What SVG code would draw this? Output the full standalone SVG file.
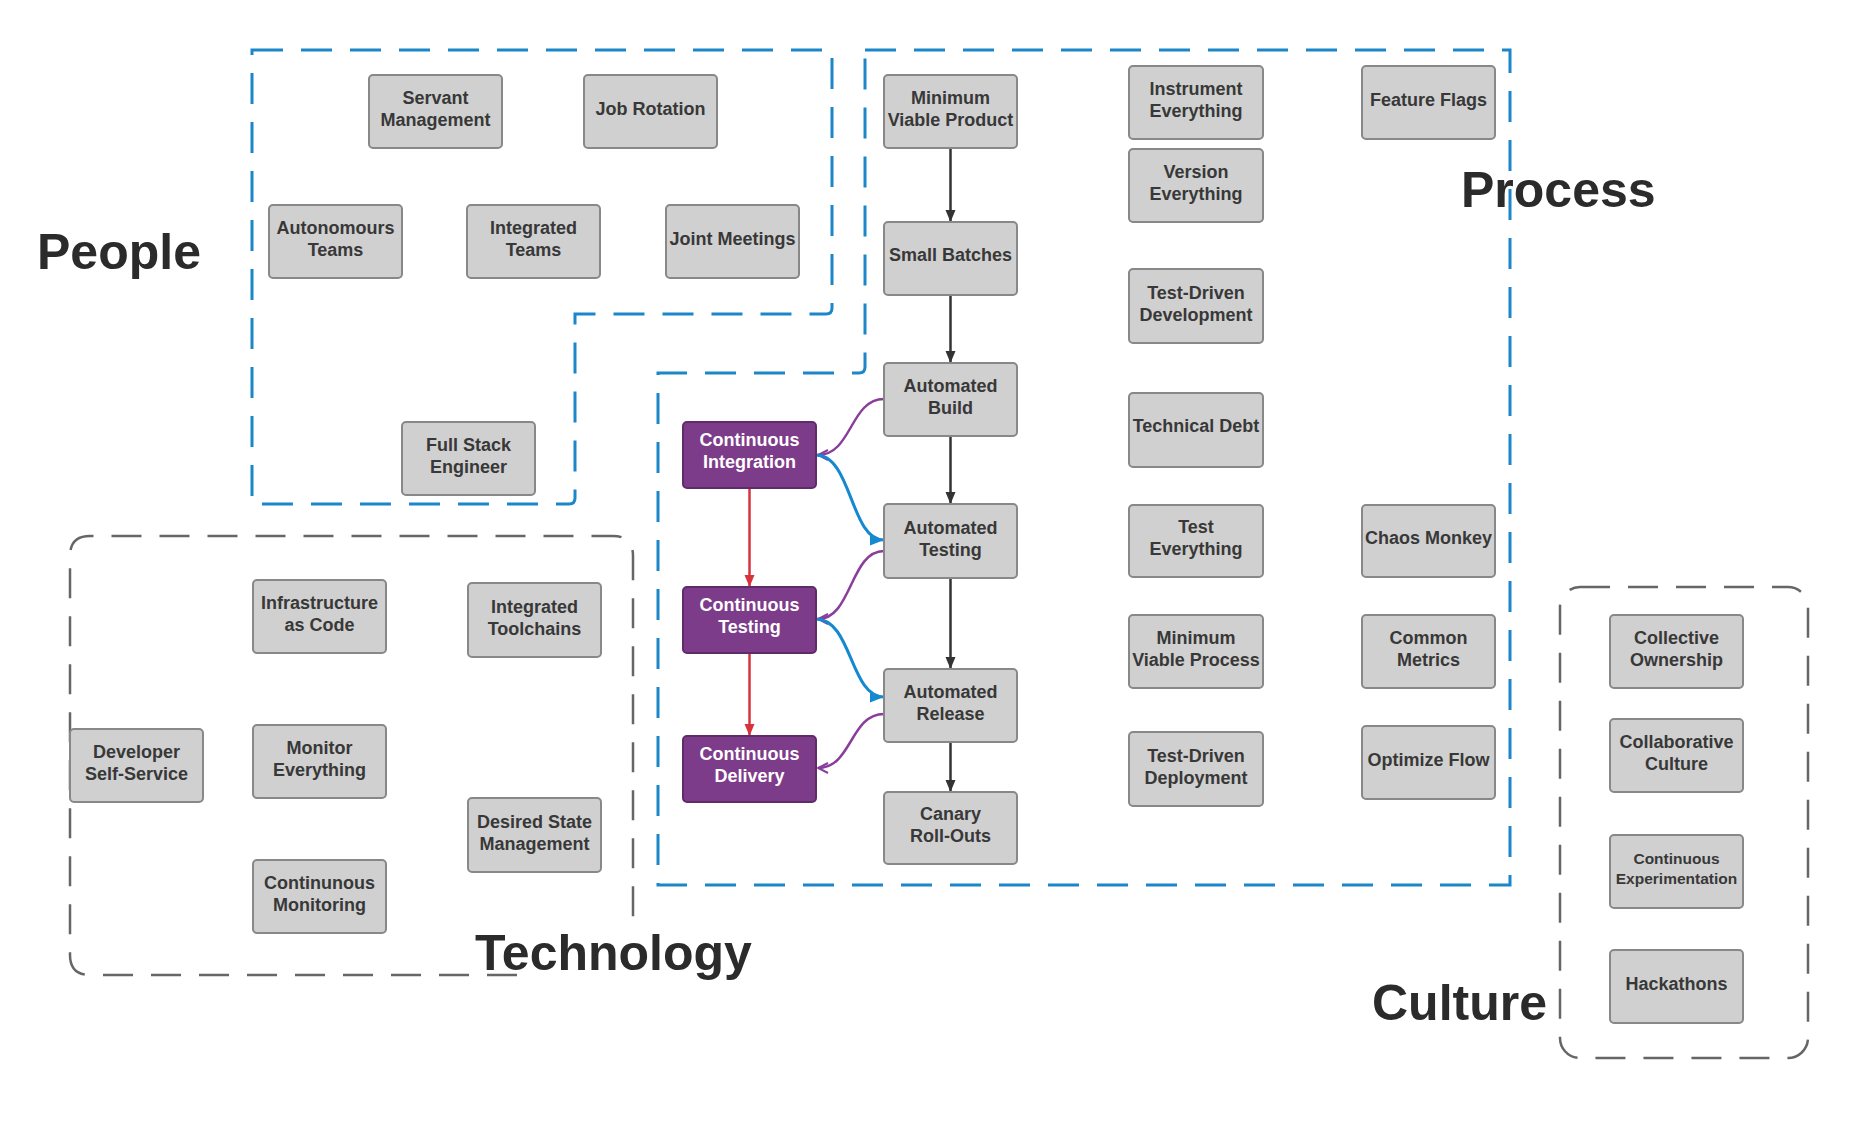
<svg xmlns="http://www.w3.org/2000/svg" width="1858" height="1125" viewBox="0 0 1858 1125">
<style>
.bg{fill:#ffffff}
.node rect{fill:#d0d0d0;stroke:#888888;stroke-width:2}
.node text{font-family:"Liberation Sans",Arial,sans-serif;font-weight:bold;font-size:18px;fill:#383838;text-anchor:middle}
.pnode rect{fill:#7d3c89;stroke:#5f2b69;stroke-width:2}
.pnode text{font-family:"Liberation Sans",Arial,sans-serif;font-weight:bold;font-size:18px;fill:#ffffff;text-anchor:middle}
.small text{font-size:15.5px}
.blue-zone{fill:none;stroke:#1b87c9;stroke-width:3;stroke-dasharray:31 18}
.gray-zone{fill:none;stroke:#666666;stroke-width:2.5;stroke-dasharray:30 18}
.title{font-family:"Liberation Sans",Arial,sans-serif;font-weight:bold;font-size:50px;fill:#2b2b2b}
.blk{fill:none;stroke:#333333;stroke-width:2.5}
.red{fill:none;stroke:#d8333d;stroke-width:2.5}
.pur{fill:none;stroke:#8a3d9a;stroke-width:2.5}
.blu{fill:none;stroke:#1589d0;stroke-width:3}
</style>
<defs>
<marker id="ah-black" markerUnits="userSpaceOnUse" markerWidth="12" markerHeight="12" viewBox="0 0 12 12" refX="12" refY="6" orient="auto"><path d="M0,1 L12,6 L0,11 Z" fill="#333333"/></marker>
<marker id="ah-red" markerUnits="userSpaceOnUse" markerWidth="12" markerHeight="12" viewBox="0 0 12 12" refX="12" refY="6" orient="auto"><path d="M0,1 L12,6 L0,11 Z" fill="#d8333d"/></marker>
<marker id="ah-blue" markerUnits="userSpaceOnUse" markerWidth="14" markerHeight="12" viewBox="0 0 14 12" refX="14" refY="6" orient="auto"><path d="M0,0.5 L14,6 L0,11.5 Z" fill="#1589d0"/></marker>
<marker id="ah-purple" markerUnits="userSpaceOnUse" markerWidth="12" markerHeight="12" viewBox="0 0 12 12" refX="11" refY="6" orient="auto"><path d="M1,1 L11,6 L1,11" fill="none" stroke="#8a3d9a" stroke-width="2"/></marker>
</defs>
<rect class="bg" x="0" y="0" width="1858" height="1125"/>

<g id="zones">
<path id="zone-people" class="blue-zone" d="M252,50 H832 V308 Q832,314 826,314 H575 V498 Q575,504 569,504 H252 Z"/>
<path id="zone-process" class="blue-zone" d="M865,50 H1510 V885 H658 V373 H859 Q865,373 865,367 Z"/>
<path id="zone-technology" class="gray-zone" d="M517,975 H90 Q70,975 70,955 V556 Q70,536 90,536 H613 Q633,536 633,556 V917"/>
<rect id="zone-culture" class="gray-zone" x="1560" y="587" width="248" height="471" rx="20" ry="20"/>
</g>

<g id="titles">
<text class="title" x="37" y="269">People</text>
<text class="title" x="1461" y="207">Process</text>
<text class="title" x="475" y="970">Technology</text>
<text class="title" x="1372" y="1020">Culture</text>
</g>

<g id="connectors">
<path class="blk" d="M950.5,148 V222" marker-end="url(#ah-black)"/>
<path class="blk" d="M950.5,295 V363" marker-end="url(#ah-black)"/>
<path class="blk" d="M950.5,436 V504" marker-end="url(#ah-black)"/>
<path class="blk" d="M950.5,578 V669" marker-end="url(#ah-black)"/>
<path class="blk" d="M950.5,742 V792" marker-end="url(#ah-black)"/>
<path class="red" d="M749.5,488 V587" marker-end="url(#ah-red)"/>
<path class="red" d="M749.5,653 V736" marker-end="url(#ah-red)"/>
<path class="pur" d="M884,399 C850,399 852,455 818,455" marker-end="url(#ah-purple)"/>
<path class="blu" d="M816,455 C852,455 850,540 884,540" marker-end="url(#ah-blue)"/>
<path class="pur" d="M884,551 C850,551 852,619 818,619" marker-end="url(#ah-purple)"/>
<path class="blu" d="M816,619 C852,619 850,697 884,697" marker-end="url(#ah-blue)"/>
<path class="pur" d="M884,714 C850,714 852,768 818,768" marker-end="url(#ah-purple)"/>
</g>

<g id="n-servant" class="node"><rect x="369" y="75" width="133" height="73" rx="4"/><text x="435.5" y="104">Servant</text><text x="435.5" y="126">Management</text></g>
<g id="n-jobrotation" class="node"><rect x="584" y="75" width="133" height="73" rx="4"/><text x="650.5" y="115">Job Rotation</text></g>
<g id="n-autoteams" class="node"><rect x="269" y="205" width="133" height="73" rx="4"/><text x="335.5" y="234">Autonomours</text><text x="335.5" y="256">Teams</text></g>
<g id="n-intteams" class="node"><rect x="467" y="205" width="133" height="73" rx="4"/><text x="533.5" y="234">Integrated</text><text x="533.5" y="256">Teams</text></g>
<g id="n-joint" class="node"><rect x="666" y="205" width="133" height="73" rx="4"/><text x="732.5" y="245">Joint Meetings</text></g>
<g id="n-fullstack" class="node"><rect x="402" y="422" width="133" height="73" rx="4"/><text x="468.5" y="451">Full Stack</text><text x="468.5" y="473">Engineer</text></g>

<g id="n-mvp" class="node"><rect x="884" y="75" width="133" height="73" rx="4"/><text x="950.5" y="104">Minimum</text><text x="950.5" y="126">Viable Product</text></g>
<g id="n-smallbatches" class="node"><rect x="884" y="222" width="133" height="73" rx="4"/><text x="950.5" y="261">Small Batches</text></g>
<g id="n-autobuild" class="node"><rect x="884" y="363" width="133" height="73" rx="4"/><text x="950.5" y="392">Automated</text><text x="950.5" y="414">Build</text></g>
<g id="n-autotesting" class="node"><rect x="884" y="504" width="133" height="74" rx="4"/><text x="950.5" y="534">Automated</text><text x="950.5" y="556">Testing</text></g>
<g id="n-autorelease" class="node"><rect x="884" y="669" width="133" height="73" rx="4"/><text x="950.5" y="698">Automated</text><text x="950.5" y="720">Release</text></g>
<g id="n-canary" class="node"><rect x="884" y="792" width="133" height="72" rx="4"/><text x="950.5" y="820">Canary</text><text x="950.5" y="842">Roll-Outs</text></g>

<g id="n-ci" class="pnode"><rect x="683" y="422" width="133" height="66" rx="4"/><text x="749.5" y="446">Continuous</text><text x="749.5" y="468">Integration</text></g>
<g id="n-ct" class="pnode"><rect x="683" y="587" width="133" height="66" rx="4"/><text x="749.5" y="611">Continuous</text><text x="749.5" y="633">Testing</text></g>
<g id="n-cd" class="pnode"><rect x="683" y="736" width="133" height="66" rx="4"/><text x="749.5" y="760">Continuous</text><text x="749.5" y="782">Delivery</text></g>

<g id="n-instrument" class="node"><rect x="1129" y="66" width="134" height="73" rx="4"/><text x="1196" y="95">Instrument</text><text x="1196" y="117">Everything</text></g>
<g id="n-version" class="node"><rect x="1129" y="149" width="134" height="73" rx="4"/><text x="1196" y="178">Version</text><text x="1196" y="200">Everything</text></g>
<g id="n-tddev" class="node"><rect x="1129" y="269" width="134" height="74" rx="4"/><text x="1196" y="299">Test-Driven</text><text x="1196" y="321">Development</text></g>
<g id="n-techdebt" class="node"><rect x="1129" y="393" width="134" height="74" rx="4"/><text x="1196" y="432">Technical Debt</text></g>
<g id="n-testeverything" class="node"><rect x="1129" y="505" width="134" height="72" rx="4"/><text x="1196" y="533">Test</text><text x="1196" y="555">Everything</text></g>
<g id="n-mvprocess" class="node"><rect x="1129" y="615" width="134" height="73" rx="4"/><text x="1196" y="644">Minimum</text><text x="1196" y="666">Viable Process</text></g>
<g id="n-tddeploy" class="node"><rect x="1129" y="732" width="134" height="74" rx="4"/><text x="1196" y="762">Test-Driven</text><text x="1196" y="784">Deployment</text></g>
<g id="n-featureflags" class="node"><rect x="1362" y="66" width="133" height="73" rx="4"/><text x="1428.5" y="106">Feature Flags</text></g>
<g id="n-chaos" class="node"><rect x="1362" y="505" width="133" height="72" rx="4"/><text x="1428.5" y="544">Chaos Monkey</text></g>
<g id="n-metrics" class="node"><rect x="1362" y="615" width="133" height="73" rx="4"/><text x="1428.5" y="644">Common</text><text x="1428.5" y="666">Metrics</text></g>
<g id="n-flow" class="node"><rect x="1362" y="726" width="133" height="73" rx="4"/><text x="1428.5" y="766">Optimize Flow</text></g>

<g id="n-iac" class="node"><rect x="253" y="580" width="133" height="73" rx="4"/><text x="319.5" y="609">Infrastructure</text><text x="319.5" y="631">as Code</text></g>
<g id="n-toolchains" class="node"><rect x="468" y="583" width="133" height="74" rx="4"/><text x="534.5" y="613">Integrated</text><text x="534.5" y="635">Toolchains</text></g>
<g id="n-devself" class="node"><rect x="70" y="729" width="133" height="73" rx="4"/><text x="136.5" y="758">Developer</text><text x="136.5" y="780">Self-Service</text></g>
<g id="n-monitor" class="node"><rect x="253" y="725" width="133" height="73" rx="4"/><text x="319.5" y="754">Monitor</text><text x="319.5" y="776">Everything</text></g>
<g id="n-desired" class="node"><rect x="468" y="798" width="133" height="74" rx="4"/><text x="534.5" y="828">Desired State</text><text x="534.5" y="850">Management</text></g>
<g id="n-contmon" class="node"><rect x="253" y="860" width="133" height="73" rx="4"/><text x="319.5" y="889">Continunous</text><text x="319.5" y="911">Monitoring</text></g>

<g id="n-collective" class="node"><rect x="1610" y="615" width="133" height="73" rx="4"/><text x="1676.5" y="644">Collective</text><text x="1676.5" y="666">Ownership</text></g>
<g id="n-collab" class="node"><rect x="1610" y="719" width="133" height="73" rx="4"/><text x="1676.5" y="748">Collaborative</text><text x="1676.5" y="770">Culture</text></g>
<g id="n-contexp" class="node small"><rect x="1610" y="835" width="133" height="73" rx="4"/><text x="1676.5" y="864">Continuous</text><text x="1676.5" y="884">Experimentation</text></g>
<g id="n-hackathons" class="node"><rect x="1610" y="950" width="133" height="73" rx="4"/><text x="1676.5" y="990">Hackathons</text></g>
</svg>
